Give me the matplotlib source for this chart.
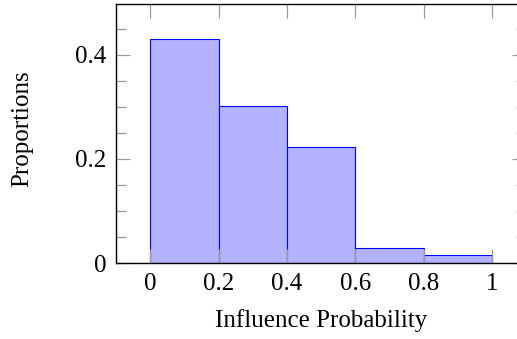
import matplotlib.pyplot as plt
from matplotlib.ticker import MultipleLocator

plt.rcParams['font.family'] = ['Liberation Serif', 'DejaVu Serif']

# histogram bins and proportions
bin_edges = [0, 0.2, 0.4, 0.6, 0.8, 1.0]
proportions = [0.431, 0.301, 0.223, 0.029, 0.015]
x_ticks = [0, 0.2, 0.4, 0.6, 0.8, 1]
x_tick_labels = ["0", "0.2", "0.4", "0.6", "0.8", "1"]
y_ticks = [0, 0.2, 0.4]
y_tick_labels = ["0", "0.2", "0.4"]

W, H = 517, 339
fig = plt.figure(figsize=(W / 100, H / 100), dpi=100)
# axes box runs past the right edge of the picture, as in the reference
left, right, bottom, top = 116, 526, 263, 4
ax = fig.add_axes([left / W, (H - bottom) / H, (right - left) / W, (bottom - top) / H])

widths = [bin_edges[i + 1] - bin_edges[i] for i in range(len(proportions))]
ax.bar(bin_edges[:-1], proportions, width=widths, align="edge",
       color="#b3b3ff", edgecolor="#0000ff", linewidth=0.8, zorder=1)

ax.set_xlim(-0.1, 1.1)
ax.set_ylim(0, 0.498)
ax.set_xticks(x_ticks)
ax.set_xticklabels(x_tick_labels)
ax.set_yticks(y_ticks)
ax.set_yticklabels(y_tick_labels)
ax.yaxis.set_minor_locator(MultipleLocator(0.05))

ax.tick_params(which="both", direction="in", top=True, right=True,
               color="#999999", width=0.9, labelsize=18, zorder=3)
ax.tick_params(which="major", length=10, pad=7)
ax.tick_params(which="minor", length=7)
for sp in ax.spines.values():
    sp.set_linewidth(1.0)
    sp.set_zorder(4)

ax.set_xlabel("Influence Probability", fontsize=18, labelpad=10)
ax.set_ylabel("Proportions", fontsize=18)
ax.yaxis.set_label_coords(-0.203, 0.517)

fig.savefig("out.png", dpi=100)
